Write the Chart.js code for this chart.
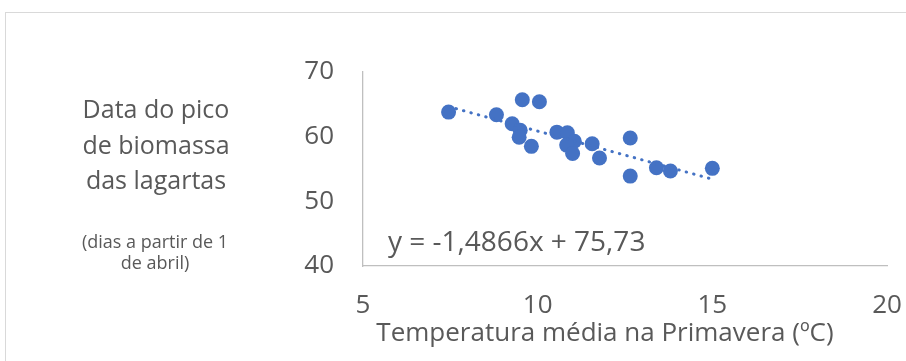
<!DOCTYPE html>
<html>
<head>
<meta charset="utf-8">
<script src="https://cdn.jsdelivr.net/npm/chart.js"></script>
<style>
  body { margin: 0; background: #fff; }
</style>
</head>
<body>
<canvas id="myChart" width="906" height="361"></canvas>
<script>
const temps = [7.45, 8.82, 9.27, 9.5, 9.47, 9.56, 10.05, 9.82, 10.55, 10.85, 11.05, 10.83, 11.0, 11.56, 11.77, 12.65, 12.65, 13.4, 13.8, 15.0]
const peakDays = [63.8, 63.4, 62.0, 61.0, 59.9, 65.7, 65.4, 58.5, 60.7, 60.6, 59.3, 58.7, 57.4, 58.9, 56.7, 59.8, 53.9, 55.2, 54.7, 55.1]
const trendX = [7.45, 15.0]
const trendY = [64.65, 53.43]
const xTicks = [5, 10, 15, 20]
const yTicks = [40, 50, 60, 70]
const yLabelLines = ['Data do pico', 'de biomassa', 'das lagartas']
const yNoteLines = ['(dias a partir de 1', 'de abril)']
const xTitle = 'Temperatura média na Primavera (ºC)'
const equation = 'y = -1,4866x + 75,73'

const blue = '#4472C4'
const grey = '#595959'
const font = '"Open Sans", sans-serif'

let ctx = document.getElementById('myChart')

// outer frame, axis titles and the equation
const extras = {
  id: 'extras',
  beforeDraw(chart) {
    const c = chart.ctx
    c.save()
    c.strokeStyle = '#d9d9d9'
    c.lineWidth = 1
    c.strokeRect(5.5, 12.5, 1000, 1000)
    c.restore()
  },
  afterDraw(chart) {
    const c = chart.ctx
    c.save()
    c.fillStyle = grey
    c.textAlign = 'center'
    c.textBaseline = 'middle'
    c.font = '25px ' + font
    yLabelLines.forEach((t, i) => c.fillText(t, 156, 111 + i * 35.5))
    c.font = '18px ' + font
    yNoteLines.forEach((t, i) => c.fillText(t, 155, 243 + i * 21))
    c.font = '26px ' + font
    c.fillText(xTitle, 605, 334)
    c.textAlign = 'left'
    c.font = '28px ' + font
    c.fillText(equation, 388, 243)
    c.restore()
  }
}

let myChart = new Chart(ctx, {
  type: 'scatter',
  data: {
    datasets: [{
      label: 'Data do pico',
      data: temps.map((x, i) => ({ x: x, y: peakDays[i] })),
      backgroundColor: blue,
      borderColor: blue,
      borderWidth: 0,
      pointRadius: 7.5,
      order: 1
    }, {
      type: 'line',
      label: 'Linear',
      data: trendX.map((x, i) => ({ x: x, y: trendY[i] })),
      borderColor: blue,
      borderWidth: 3,
      borderDash: [0.5, 7.2],
      borderCapStyle: 'round',
      pointRadius: 0,
      fill: false,
      order: 0
    }]
  },
  options: {
    responsive: false,
    animation: false,
    devicePixelRatio: 1,
    layout: { padding: { left: 0, top: 72, right: 19, bottom: 0 } },
    plugins: { legend: { display: false }, tooltip: { enabled: false } },
    scales: {
      x: {
        type: 'linear',
        min: 5,
        max: 20,
        afterBuildTicks: s => { s.ticks = xTicks.map(v => ({ value: v })) },
        afterFit: s => { s.height = 95; s.paddingLeft = 0; s.paddingRight = 0 },
        grid: { display: false, drawTicks: false },
        border: { display: true, color: '#bfbfbf', width: 1.3 },
        ticks: { color: grey, font: { family: font, size: 26 }, padding: 24, maxRotation: 0 }
      },
      y: {
        min: 40,
        max: 70,
        afterBuildTicks: s => { s.ticks = yTicks.map(v => ({ value: v })) },
        afterFit: s => { s.width = 363 },
        grid: { display: false, drawTicks: false },
        border: { display: true, color: '#bfbfbf', width: 1.3 },
        ticks: { color: grey, font: { family: font, size: 26 }, padding: 29 }
      }
    }
  },
  plugins: [extras]
})
</script>
</body>
</html>
